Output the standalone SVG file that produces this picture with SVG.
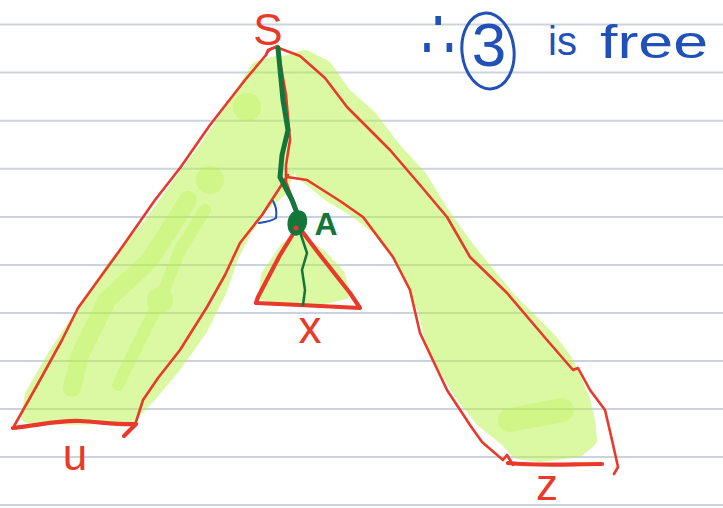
<svg xmlns="http://www.w3.org/2000/svg" width="723" height="508" viewBox="0 0 723 508">
<style>
.rule{stroke:#cbd3df;stroke-width:2}
.hl{fill:#b8f24a;stroke:#b8f24a;stroke-width:14;stroke-linejoin:round}
.hlb{fill:none;stroke:#b8f24a;stroke-linecap:round;stroke-linejoin:round}
.red{fill:none;stroke:#e8392a;stroke-width:2.6;stroke-linecap:round;stroke-linejoin:round}
.redT{fill:none;stroke:#e8392a;stroke-width:4.2;stroke-linecap:round;stroke-linejoin:round}
.grn{fill:none;stroke:#13763a;stroke-linecap:round;stroke-linejoin:round}
.knot{fill:#13763a;stroke:#13763a;stroke-width:5;stroke-linejoin:round}
.rt{font-family:"Liberation Sans",Arial,sans-serif;fill:#e8392a;text-anchor:middle}
.bt{font-family:"Liberation Sans",Arial,sans-serif;fill:#2150b8}
</style>
<rect width="723" height="508" fill="#ffffff"/>
<g id="paper">
<line class="rule" x1="0" y1="24.5" x2="723" y2="24.5"/>
<line class="rule" x1="0" y1="72.6" x2="723" y2="72.6"/>
<line class="rule" x1="0" y1="120.7" x2="723" y2="120.7"/>
<line class="rule" x1="0" y1="168.8" x2="723" y2="168.8"/>
<line class="rule" x1="0" y1="216.9" x2="723" y2="216.9"/>
<line class="rule" x1="0" y1="265" x2="723" y2="265"/>
<line class="rule" x1="0" y1="313" x2="723" y2="313"/>
<line class="rule" x1="0" y1="361" x2="723" y2="361"/>
<line class="rule" x1="0" y1="409" x2="723" y2="409"/>
<line class="rule" x1="0" y1="457" x2="723" y2="457"/>
<line class="rule" x1="0" y1="505" x2="723" y2="505"/>
</g>
<g id="highlight" opacity="0.5">
<path class="hl" d="M258,68 L280,62 L292,90 L292,130 L290,165 L280,190 L262,205 L245,230 L232,255 L220,290 L200,330 L175,365 L150,395 L130,416 L75,418 L28,416 L32,395 L55,355 L85,310 L115,265 L150,225 L175,190 L205,150 L235,105 Z"/>
<path class="hl" d="M288,62 L305,57 L325,67 L345,95 L370,117 L395,150 L420,177 L440,210 L465,245 L485,270 L510,300 L530,320 L550,340 L565,360 L575,380 L583,400 L588,420 L590,440 L578,450 L540,455 L518,452 L507,440 L482,420 L462,395 L447,370 L432,340 L425,310 L410,275 L395,250 L378,228 L355,210 L330,195 L302,172 L293,150 L294,115 L292,88 Z"/>
<path class="hl" d="M287,248 L300,242 L320,256 L338,275 L343,293 L320,298 L282,299 L266,294 L268,276 Z"/>
</g>
<g id="highlight-dense" opacity="0.3">
<path class="hlb" stroke-width="18" d="M188,200 L150,260 L107,300 L80,355 L72,388"/>
<path class="hlb" stroke-width="12" d="M205,210 L180,250 L160,300 L135,350 L118,385"/>
<circle cx="160" cy="300" r="13" fill="#b8f24a"/>
<circle cx="247" cy="107" r="14" fill="#b8f24a"/>
<circle cx="210" cy="180" r="14" fill="#b8f24a"/>
<path class="hlb" stroke-width="24" d="M510,420 L562,410"/>
</g>
<g id="connectors">
<path id="left-outer" class="red" d="M278,47 C272,48 267,51 266,55 L245,80 L210,125 L180,168 L155,200 L120,250 L78,308 L62,340 L40,380 L13,428"/>
<path id="left-inner" class="red" d="M288,175 L262,215 L240,243 L225,275 L207,307 L180,350 L158,378 L143,400 L135,425"/>
<path id="u-base" class="redT" d="M13,428 C40,425 60,420 80,421 C100,422 120,425 136,424 L124,436"/>
<path id="right-outer" class="red" d="M276,47 L300,56 L325,78 L347,107 L390,150 L420,185 L447,217 L470,257 L507,293 L547,340 L573,370 L578,368 L590,390 L605,410 L612,440 L618,467 L614,474"/>
<path id="right-inner" class="red" d="M287,177 L307,180 L340,201 L363,217 L393,257 L410,290 L420,333 L447,390 L470,425 L482,442 L503,460 L507,455 L513,465"/>
<path id="z-base" class="redT" stroke-width="3.4" d="M508,463 C540,466 570,464 602,464"/>
<path id="spine-red" class="red" d="M278,50 L286,95 L290,140 L286,165 L286,182 L295,205 L298,228"/>
<path id="x-tri" class="redT" d="M298,226 L280,255 L258,297 L256,303 L300,305 L360,308 L350,293 L320,255 Z"/>
<path id="apex-hook" class="red" d="M266,55 L268,50 L278,46"/>
<path id="green-path" class="grn" stroke-width="5" d="M278,48 L283,100 L288,130 L282,155 L280,177 L292,200 L297,213"/>
<path id="green-knot" class="knot" d="M297,213 C287,215 288,235 297,233 C305,231 308,215 300,213 Z"/>
<circle cx="296" cy="228" r="2.5" fill="#e8392a"/>
<path id="green-thread" class="grn" stroke-width="2.5" d="M300,232 L307,253 L302,270 L305,290 L303,305"/>
<path id="blue-mark" fill="none" stroke="#2150b8" stroke-width="2" stroke-linecap="round" d="M273,201 C276,206 277,212 276,218 C272,221 266,222 259,223"/>
</g>
<g id="node-S"><text class="rt" x="268" y="45" font-size="44">S</text></g>
<g id="node-u"><text class="rt" x="75" y="470" font-size="44">u</text></g>
<g id="node-x"><text class="rt" x="310" y="343" font-size="46">x</text></g>
<g id="node-z"><text class="rt" x="547" y="500" font-size="44">z</text></g>
<g id="node-A"><text x="326" y="235" font-size="32" font-weight="bold" text-anchor="middle" font-family="Liberation Sans, Arial, sans-serif" fill="#13763a">A</text></g>
<g id="note">
<text class="bt" x="438" y="58" font-size="60" text-anchor="middle" transform="translate(438,54) scale(0.9,1.2) translate(-438,-54)" font-family="DejaVu Sans, sans-serif">∴</text>
<ellipse cx="488" cy="51" rx="26" ry="38" fill="none" stroke="#2150b8" stroke-width="3" transform="rotate(-6 488 51)"/>
<text class="bt" x="489" y="66" font-size="62" text-anchor="middle">3</text>
<text class="bt" x="548" y="55" font-size="40">is</text>
<text class="bt" x="600" y="58" font-size="46" textLength="108" lengthAdjust="spacingAndGlyphs">free</text>
</g>
</svg>
